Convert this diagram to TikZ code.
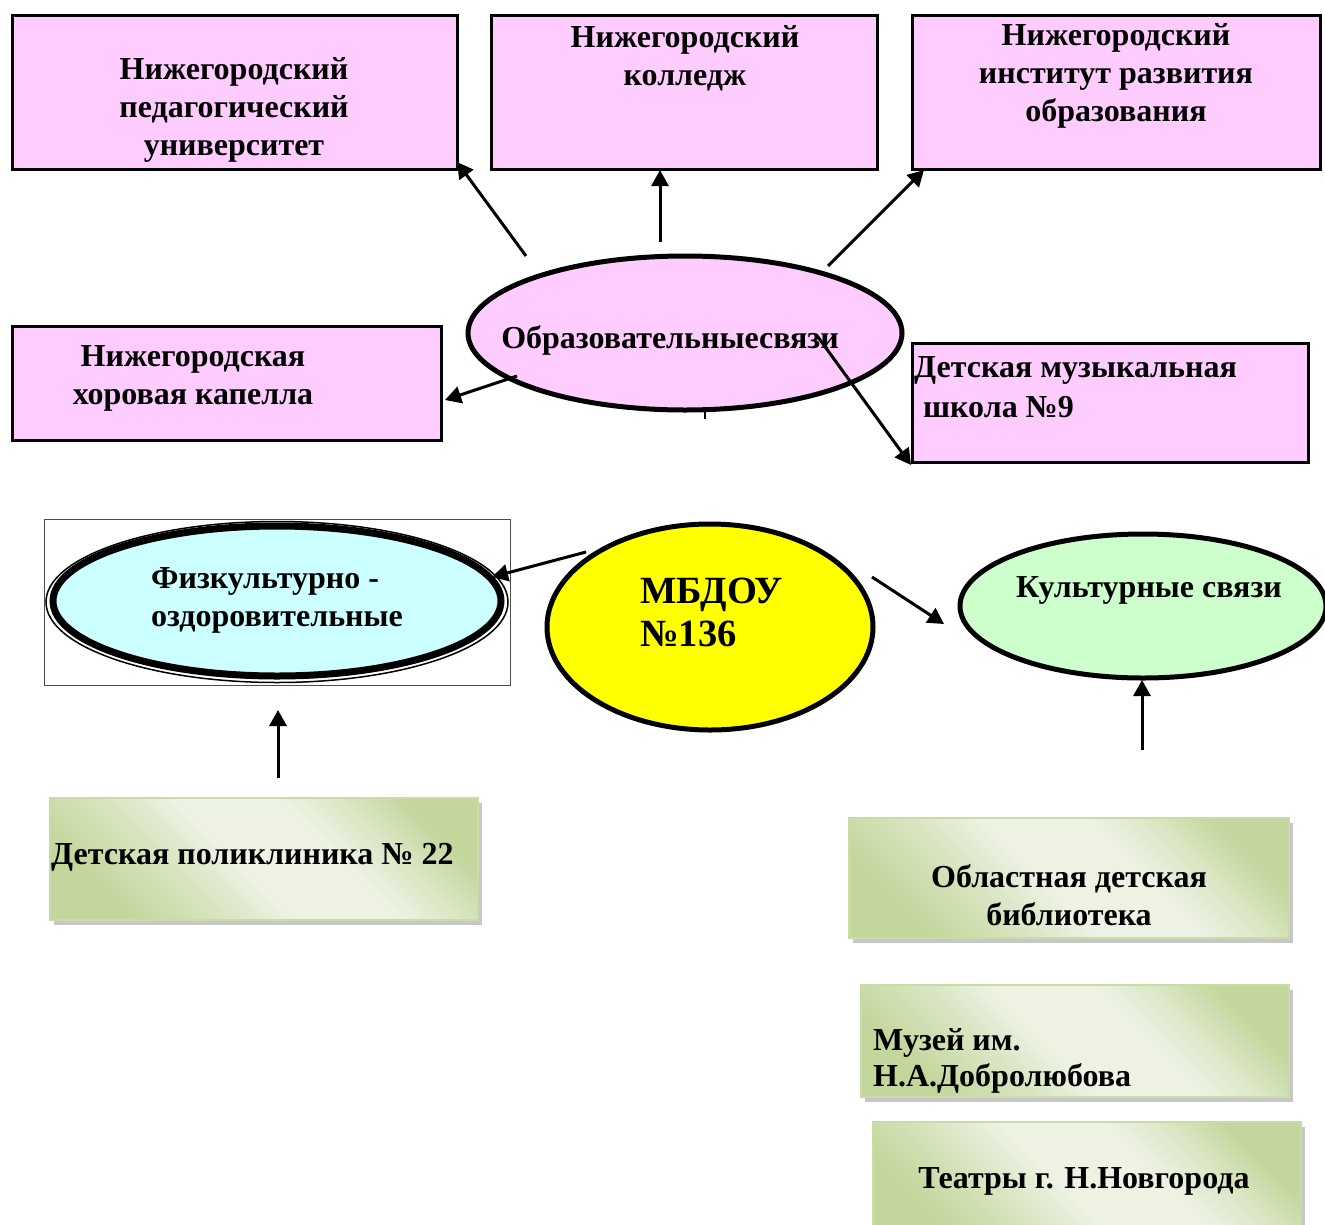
\documentclass[tikz,border=0pt]{standalone}
\usepackage{fontspec}
\setmainfont{Liberation Serif}
\usetikzlibrary{shapes.geometric,arrows.meta,shadows}
\definecolor{pinkc}{HTML}{FFCCFF}
\definecolor{cyanc}{HTML}{CCFFFF}
\definecolor{greenc}{HTML}{CCFFCC}
\definecolor{yelc}{HTML}{FFFF00}
\definecolor{gdark}{HTML}{C3D69B}
\definecolor{gmid}{HTML}{DAE6C4}
\definecolor{glight}{HTML}{EDF2E3}
\definecolor{gborder}{HTML}{C9DCA8}
\pgfdeclarehorizontalshading{greenband}{100bp}{color(0bp)=(gdark); color(25bp)=(gdark); color(38bp)=(gmid); color(46bp)=(glight); color(60bp)=(glight); color(68bp)=(gmid); color(76bp)=(gdark); color(100bp)=(gdark)}
\begin{document}
\begin{tikzpicture}[x=1pt,y=-1pt,
  pinkbox/.style={draw, line width=3pt, fill=pinkc, rectangle, inner sep=0pt},
  greenbox/.style={rectangle, draw=gborder, line width=1.5pt, shading=greenband, shading angle=45, inner sep=0pt,
     drop shadow={shadow xshift=4pt, shadow yshift=-5pt, fill=black!22, opacity=1}},
  txt/.style={font=\fontsize{32}{38}\selectfont\bfseries, inner sep=0pt},
  arr/.style={line width=3pt, -{Triangle[length=16pt,width=17pt]}},
]
\useasboundingbox (0,0) rectangle (1325,1224);
\clip (0,0) rectangle (1325,1224);

% pink boxes
\node[pinkbox, minimum width=445pt, minimum height=154pt] (boxA) at (234.5,92) {};
\node[txt, align=center] (tA) at (234,110) {Нижегородский\\педагогический\\университет};
\node[pinkbox, minimum width=386pt, minimum height=154pt] (boxB) at (684,92) {};
\node[txt, align=center] (tB) at (685,58) {Нижегородский\\колледж};
\node[pinkbox, minimum width=408pt, minimum height=154pt] (boxC) at (1116,92) {};
\node[txt, align=center] (tC) at (1116,76) {Нижегородский\\институт развития\\образования};
\node[pinkbox, minimum width=429pt, minimum height=114pt] (boxD) at (226.5,383) {};
\node[txt, align=center] (tD) at (193,378) {Нижегородская\\хоровая капелла};
\node[pinkbox, minimum width=396pt, minimum height=119pt] (boxE) at (1110,402.5) {};
\node[txt, align=left, anchor=west, font=\fontsize{32}{40}\selectfont\bfseries] (tE) at (914,387) {Детская музыкальная\\\hspace{9pt}школа №9};

% education ellipse
\node[ellipse, draw, line width=5pt, fill=pinkc, minimum width=434pt, minimum height=154pt, inner sep=0pt] (obr) at (685,333) {};
\node[txt] (tObr) at (670,340) {Образовательныесвязи};
\coordinate (tk1) at (705,409);
\coordinate (tk2) at (705,419);
\draw[line width=2pt] (tk1) -- (tk2);

% MBDOU
\node[ellipse, draw, line width=5pt, fill=yelc, minimum width=326pt, minimum height=206pt, inner sep=0pt] (mb) at (710,627) {};
\node[font=\fontsize{38.5}{43}\selectfont\bfseries, align=left, anchor=west, inner sep=0pt] (tMb) at (640,612) {МБДОУ\\№136};

% physical culture
\node[rectangle, draw=black!70, line width=1pt, minimum width=466pt, minimum height=166pt, inner sep=0pt] (fizf) at (277,602) {};
\node[ellipse, draw, line width=1.5pt, minimum width=462pt, minimum height=161pt, inner sep=0pt] (fizo) at (277,602) {};
\node[ellipse, draw, line width=7pt, fill=cyanc, minimum width=448pt, minimum height=150pt, inner sep=0pt] (fiz) at (277,601) {};
\node[txt, align=left, anchor=west] (tFiz) at (151,600) {Физкультурно -\\оздоровительные};

% culture
\node[ellipse, draw, line width=5pt, fill=greenc, minimum width=366pt, minimum height=144pt, inner sep=0pt] (kult) at (1143,606) {};
\node[txt] (tKult) at (1149,590) {Культурные связи};

% green boxes
\node[greenbox, minimum width=428pt, minimum height=122pt] (g1) at (264,859) {};
\node[txt, anchor=west] (tG1) at (51,857) {Детская поликлиника № 22};
\node[greenbox, minimum width=440pt, minimum height=120pt] (g2) at (1069,878) {};
\node[txt, align=center] (tG2) at (1069,895) {Областная детская\\библиотека};
\node[greenbox, minimum width=428pt, minimum height=112pt] (g3) at (1075,1041) {};
\node[txt, align=left, anchor=west, font=\fontsize{32}{36}\selectfont\bfseries] (tG3) at (873,1061) {Музей им.\\Н.А.Добролюбова};
\node[greenbox, minimum width=428pt, minimum height=118pt] (g4) at (1087,1181) {};
\node[txt] (tG4) at (1084,1181) {Театры г. Н.Новгорода};

% arrows
\coordinate (a1s) at (526,256); \coordinate (a1e) at (457,162);
\coordinate (a2s) at (660,242); \coordinate (a2e) at (660,170);
\coordinate (a3s) at (828,266); \coordinate (a3e) at (924,170);
\coordinate (a4s) at (517,376); \coordinate (a4e) at (445,400);
\coordinate (a5s) at (818,337); \coordinate (a5e) at (911,465);
\coordinate (a6s) at (586,552); \coordinate (a6e) at (492,577);
\coordinate (a7s) at (872,577); \coordinate (a7e) at (944,624);
\coordinate (a8s) at (1142,750); \coordinate (a8e) at (1142,680);
\coordinate (a9s) at (278,778); \coordinate (a9e) at (278,710);
\draw[arr] (a1s) -- (a1e);
\draw[arr] (a2s) -- (a2e);
\draw[arr] (a3s) -- (a3e);
\draw[arr] (a4s) -- (a4e);
\draw[arr] (a5s) -- (a5e);
\draw[arr] (a6s) -- (a6e);
\draw[arr] (a7s) -- (a7e);
\draw[arr] (a8s) -- (a8e);
\draw[arr] (a9s) -- (a9e);
\end{tikzpicture}
\end{document}
